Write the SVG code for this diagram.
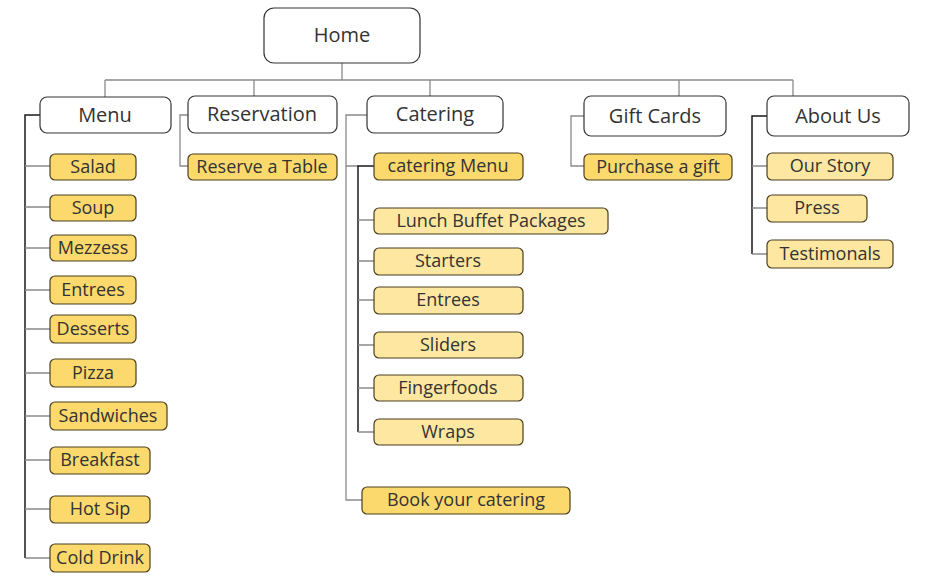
<svg xmlns="http://www.w3.org/2000/svg" width="938" height="583" viewBox="0 0 938 583">
<style>
.top{fill:#fff;stroke:#333;stroke-width:1.2}
.dk{fill:#fbd96c;stroke:#4a3f1f;stroke-width:1.2}
.lt{fill:#fde7a1;stroke:#4a3f1f;stroke-width:1.2}
text{font-family:"Open Sans","Noto Sans","Liberation Sans",sans-serif;fill:#333;text-anchor:middle;dominant-baseline:central}
.t1{font-size:20px}
.t2{font-size:18px}
.g{stroke:#8a8a8a;stroke-width:1.3;fill:none}
.b{stroke:#1a1a1a;stroke-width:1.5;fill:none}
</style>
<rect width="938" height="583" fill="#fff"/>
<g id="connectors">
<path class="g" d="M342 63V80M105 80H793M105 80V97M254 80V96M430 80V96M679 80V96M793 80V96"/>
<path class="b" d="M40 115H25V558"/>
<path class="g" d="M25 166H50M25 207H50M25 248H50M25 290H50M25 329H50M25 373H50M25 416H50M25 460H50M25 509H50M25 558H50"/>
<path class="g" d="M188 115H180V166H188"/>
<path class="g" d="M367 115H346V500H362M346 166H358"/>
<path class="b" d="M374 166H358V432"/>
<path class="g" d="M358 220H374M358 261H374M358 300H374M358 345H374M358 388H374M358 432H374"/>
<path class="g" d="M584 116H571V166H584"/>
<path class="b" d="M767 116H752V254"/>
<path class="g" d="M752 166H767M752 208H767M752 254H767"/>
</g>
<g id="home"><rect class="top" x="264" y="8" width="156" height="55" rx="10"/><text class="t1" x="342" y="34">Home</text></g>
<g id="menu"><rect class="top" x="40" y="97" width="131" height="36" rx="7"/><text class="t1" x="105" y="114">Menu</text></g>
<g id="reservation"><rect class="top" x="188" y="96" width="149" height="37" rx="7"/><text class="t1" x="262" y="113">Reservation</text></g>
<g id="catering"><rect class="top" x="367" y="96" width="136" height="37" rx="7"/><text class="t1" x="435" y="113">Catering</text></g>
<g id="giftcards"><rect class="top" x="584" y="96" width="142" height="40" rx="7"/><text class="t1" x="655" y="115">Gift Cards</text></g>
<g id="aboutus"><rect class="top" x="767" y="96" width="142" height="40" rx="7"/><text class="t1" x="838" y="115">About Us</text></g>
<g id="salad"><rect class="dk" x="50" y="154" width="86" height="26" rx="5"/><text class="t2" x="93" y="166">Salad</text></g>
<g id="soup"><rect class="dk" x="50" y="195" width="86" height="26" rx="5"/><text class="t2" x="93" y="207">Soup</text></g>
<g id="mezzess"><rect class="dk" x="50" y="235" width="86" height="26" rx="5"/><text class="t2" x="93" y="247">Mezzess</text></g>
<g id="entrees1"><rect class="dk" x="50" y="276" width="86" height="28" rx="5"/><text class="t2" x="93" y="289">Entrees</text></g>
<g id="desserts"><rect class="dk" x="50" y="315" width="86" height="28" rx="5"/><text class="t2" x="93" y="328">Desserts</text></g>
<g id="pizza"><rect class="dk" x="50" y="359" width="86" height="28" rx="5"/><text class="t2" x="93" y="372">Pizza</text></g>
<g id="sandwiches"><rect class="dk" x="50" y="402" width="117" height="28" rx="5"/><text class="t2" x="108" y="415">Sandwiches</text></g>
<g id="breakfast"><rect class="dk" x="50" y="447" width="100" height="27" rx="5"/><text class="t2" x="100" y="459">Breakfast</text></g>
<g id="hotsip"><rect class="dk" x="50" y="496" width="100" height="27" rx="5"/><text class="t2" x="100" y="508">Hot Sip</text></g>
<g id="colddrink"><rect class="dk" x="50" y="544" width="100" height="28" rx="5"/><text class="t2" x="100" y="557">Cold Drink</text></g>
<g id="reserve"><rect class="dk" x="188" y="154" width="149" height="26" rx="5"/><text class="t2" x="262" y="166">Reserve a Table</text></g>
<g id="cateringmenu"><rect class="dk" x="374" y="153" width="149" height="27" rx="5"/><text class="t2" x="448" y="165">catering Menu</text></g>
<g id="lunch"><rect class="lt" x="374" y="208" width="234" height="26" rx="5"/><text class="t2" x="491" y="220">Lunch Buffet Packages</text></g>
<g id="starters"><rect class="lt" x="374" y="248" width="149" height="27" rx="5"/><text class="t2" x="448" y="260">Starters</text></g>
<g id="entrees2"><rect class="lt" x="374" y="287" width="149" height="27" rx="5"/><text class="t2" x="448" y="299">Entrees</text></g>
<g id="sliders"><rect class="lt" x="374" y="332" width="149" height="26" rx="5"/><text class="t2" x="448" y="344">Sliders</text></g>
<g id="fingerfoods"><rect class="lt" x="374" y="375" width="149" height="26" rx="5"/><text class="t2" x="448" y="387">Fingerfoods</text></g>
<g id="wraps"><rect class="lt" x="374" y="419" width="149" height="26" rx="5"/><text class="t2" x="448" y="431">Wraps</text></g>
<g id="book"><rect class="dk" x="362" y="487" width="208" height="27" rx="5"/><text class="t2" x="466" y="499">Book your catering</text></g>
<g id="purchase"><rect class="dk" x="584" y="154" width="148" height="26" rx="5"/><text class="t2" x="658" y="166">Purchase a gift</text></g>
<g id="ourstory"><rect class="lt" x="767" y="153" width="126" height="27" rx="5"/><text class="t2" x="830" y="165">Our Story</text></g>
<g id="press"><rect class="lt" x="767" y="195" width="100" height="27" rx="5"/><text class="t2" x="817" y="207">Press</text></g>
<g id="testimonals"><rect class="lt" x="767" y="240" width="126" height="28" rx="5"/><text class="t2" x="830" y="253">Testimonals</text></g>
</svg>
